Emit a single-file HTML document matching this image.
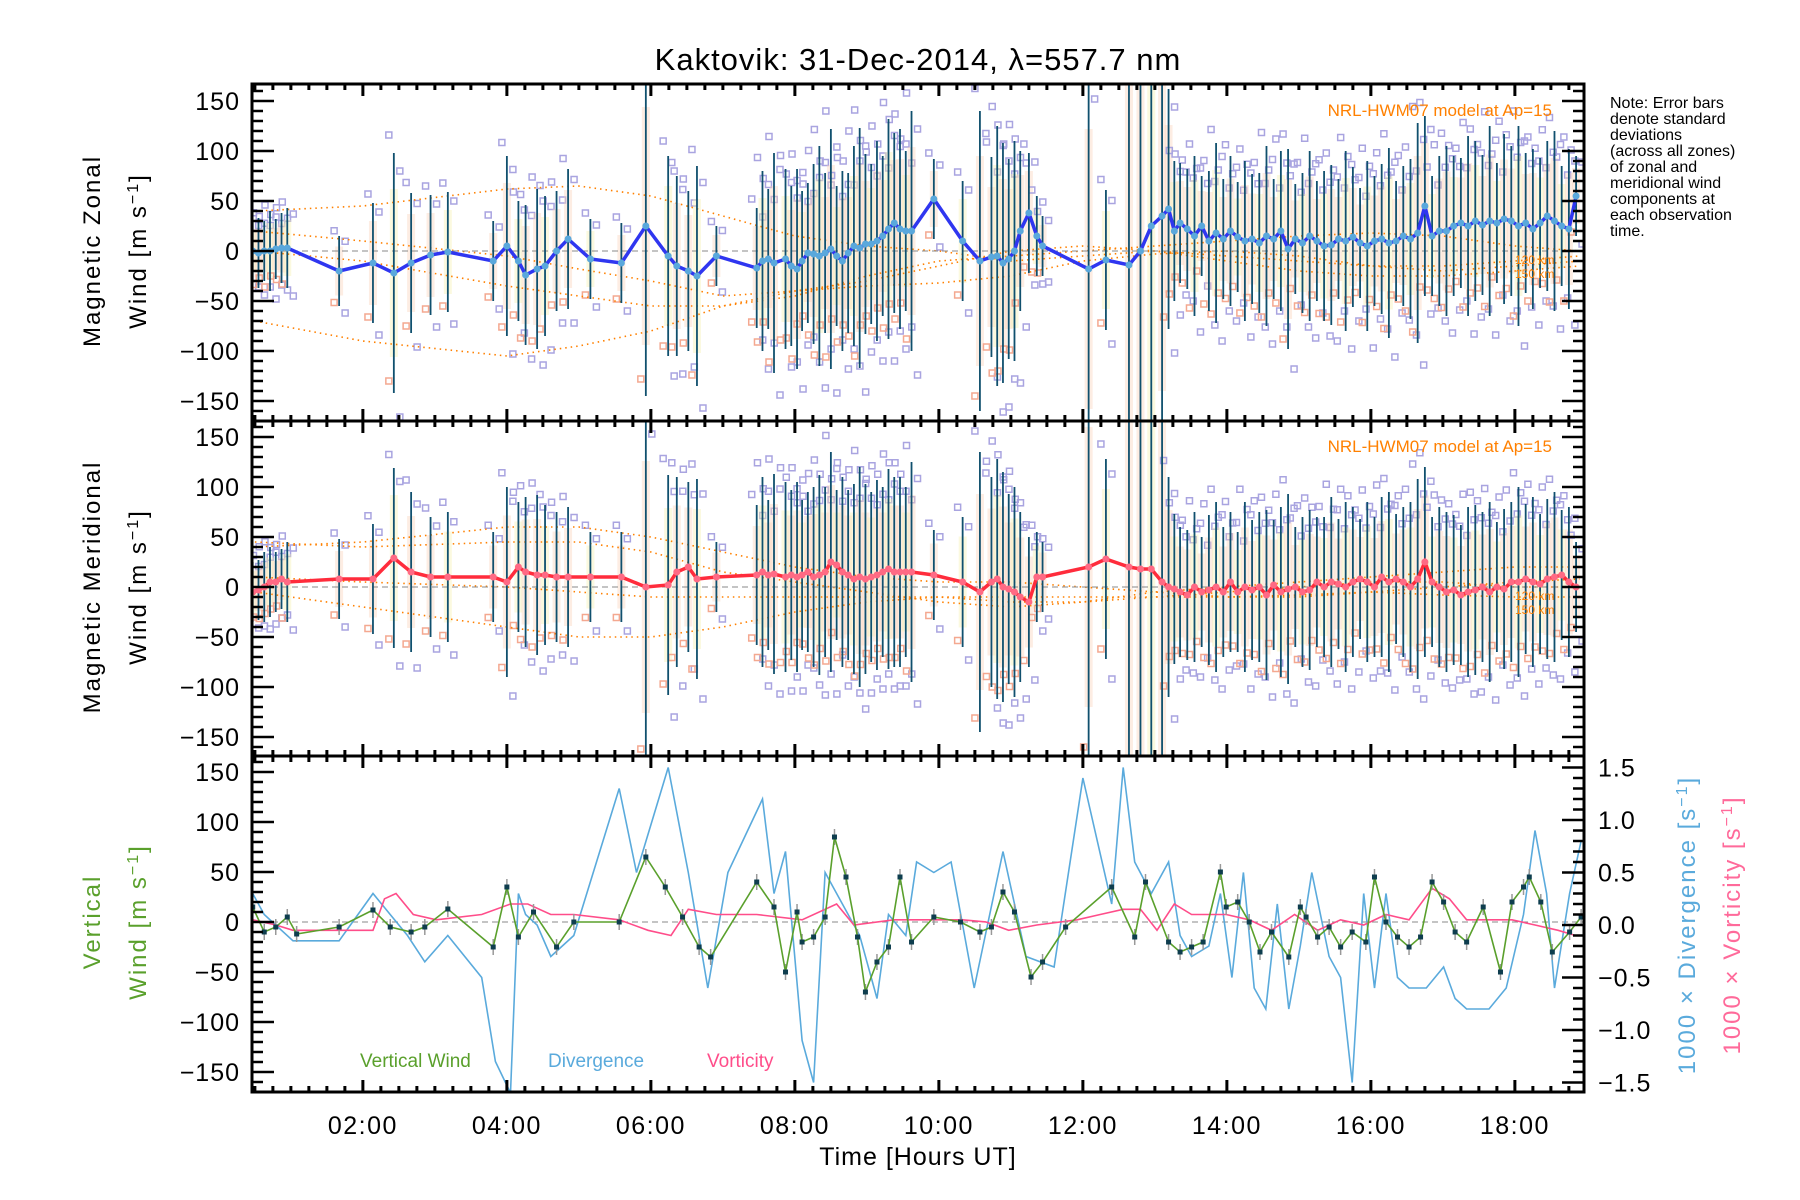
<!DOCTYPE html>
<html><head><meta charset="utf-8"><title>Kaktovik winds</title>
<style>
html,body{margin:0;padding:0;background:#fff;}
svg{display:block;font-family:"Liberation Sans",sans-serif;}
</style></head>
<body>
<svg id="chart" width="1800" height="1200" viewBox="0 0 1800 1200" xmlns="http://www.w3.org/2000/svg">
<text x="918" y="70" font-size="31" text-anchor="middle" letter-spacing="1">Kaktovik: 31-Dec-2014, λ=557.7 nm</text>
<g font-size="16" fill="#000">
<text x="1610" y="108">Note: Error bars</text>
<text x="1610" y="124">denote standard</text>
<text x="1610" y="140">deviations</text>
<text x="1610" y="156">(across all zones)</text>
<text x="1610" y="172">of zonal and</text>
<text x="1610" y="188">meridional wind</text>
<text x="1610" y="204">components at</text>
<text x="1610" y="220">each observation</text>
<text x="1610" y="236">time.</text>
</g>
<g id="layer"></g>
</svg>
<script>
// ---------- data ----------
const obsTimes=[0.47,0.55,0.63,0.71,0.79,0.87,0.95,1.67,2.14,2.43,2.67,2.94,3.18,3.81,4.00,4.16,4.26,4.42,4.53,4.69,4.85,5.16,5.59,5.93,6.24,6.36,6.52,6.64,6.91,7.47,7.55,7.63,7.71,7.87,7.95,8.03,8.10,8.18,8.26,8.34,8.42,8.50,8.58,8.66,8.74,8.82,8.90,8.98,9.06,9.14,9.22,9.30,9.38,9.46,9.54,9.62,9.93,10.33,10.57,10.73,10.81,10.89,10.97,11.05,11.13,11.25,11.36,11.44,12.08,12.32,12.64,12.80,12.95,13.10,13.19,13.27,13.35,
13.45,13.55,13.65,13.75,13.85,13.95,14.05,14.15,14.25,14.35,14.45,14.55,14.65,14.75,14.85,14.95,15.05,15.15,15.25,15.35,15.45,15.55,15.65,15.75,15.85,15.95,16.05,16.15,16.25,16.35,16.45,16.55,16.65,16.75,16.85,16.95,17.05,17.15,17.25,17.35,17.45,17.55,17.65,17.75,17.85,17.95,18.05,18.15,18.25,18.35,18.45,18.55,18.65,18.75,18.85];
const zonalWind=[0,-2,0,0,2,3,3,-20,-12,-22,-12,-4,-1,-10,5,-10,-24,-18,-15,0,12,-8,-12,25,-5,-15,-20,-25,-5,-17,-10,-8,-12,-8,-15,-18,-10,-2,-3,-5,-2,2,-5,-10,-2,5,3,7,7,10,15,22,28,22,20,20,52,10,-10,-6,-5,-12,-8,0,20,38,15,5,-18,-9,-14,0,25,35,42,20,28,
22,15,25,10,18,12,20,14,10,12,8,15,12,20,2,12,8,15,10,5,6,12,10,14,8,5,10,12,8,10,15,12,18,45,15,20,20,25,28,25,30,26,30,28,32,30,25,28,22,28,35,30,25,22,55];
const meridWind=[-5,-3,0,5,5,8,5,8,8,29,15,10,10,10,5,20,15,12,12,10,10,10,10,0,2,15,20,8,10,12,15,12,13,10,12,10,12,15,10,12,15,25,22,15,12,8,10,8,10,12,15,18,15,15,15,15,12,5,-5,5,8,0,-2,-5,-10,-15,10,10,20,28,20,18,18,5,0,-2,-5,
-8,0,-5,-3,0,-5,5,-5,0,-3,0,-8,2,-5,-2,0,-5,-3,5,0,5,3,0,5,8,5,0,10,5,8,5,0,8,25,5,0,-5,-3,-8,-5,-3,0,-5,0,-2,5,5,8,5,3,8,10,12,5,0];
const zonalErr=[30,35,30,40,30,35,40,35,60,120,70,60,60,40,90,60,70,80,70,60,70,40,40,170,100,90,80,110,30,60,90,70,110,90,80,100,70,70,90,110,80,120,70,90,80,100,120,90,80,100,80,110,90,100,80,120,40,60,150,100,130,120,100,110,80,60,40,30,200,70,300,300,300,250,120,70,60,
60,80,50,70,90,60,75,55,80,65,70,90,60,80,100,55,70,85,60,75,80,60,90,70,55,85,65,75,95,60,70,80,110,90,60,75,85,70,65,90,80,70,95,60,85,75,100,70,80,65,75,90,60,80,40];
const meridErr=[30,30,35,35,30,30,40,40,55,90,80,60,65,45,95,65,75,80,70,65,70,45,45,180,110,95,85,100,35,70,95,75,100,95,85,95,75,80,90,100,85,110,75,95,85,95,110,95,85,95,85,100,95,95,85,110,45,65,140,105,120,115,95,105,85,65,45,35,200,100,300,300,300,260,110,75,65,
65,75,55,75,85,65,70,60,85,70,75,85,65,85,95,60,75,80,65,70,85,65,85,75,60,80,70,80,90,65,75,85,100,95,65,80,80,75,70,85,85,75,90,65,80,80,95,75,85,70,80,85,65,75,45];
const modelHours=[0.5,2,4,5,6,7,8,9,10,11,12,13,14,15,16,17,18,18.9];
const zonalModelA=[40,45,62,65,55,35,15,5,0,-10,-5,0,-5,-10,-15,-15,-10,-5];
const zonalModelB=[-70,-90,-105,-95,-80,-55,-40,-35,-32,-25,-10,-3,0,-5,-15,-20,-15,-10];
const zonalModelC=[0,-10,-35,-45,-55,-55,-45,-25,-10,-5,0,5,10,15,18,15,5,0];
const zonalModelD=[20,10,-5,-18,-30,-45,-40,-30,-15,0,5,0,-10,-20,-25,-25,-20,-15];
const meridModelA=[45,40,45,45,35,15,5,-5,-15,-20,-15,-5,0,5,10,15,20,20];
const meridModelB=[-5,-20,-40,-50,-50,-40,-25,-15,-10,-15,-15,-10,-5,0,5,5,0,0];
const meridModelC=[40,45,60,60,50,35,20,10,5,5,0,-5,-10,-10,-5,0,5,8];
const meridModelD=[10,5,0,-5,-10,-10,-10,-10,-10,-10,-10,-10,-10,-8,-5,-8,-10,-10];
const vertTimes=[0.47,0.63,0.79,0.95,1.08,1.67,2.14,2.38,2.67,2.86,3.18,3.81,4.00,4.16,4.37,4.69,4.93,5.56,5.93,6.20,6.44,6.67,6.83,7.47,7.71,7.87,8.03,8.10,8.26,8.42,8.55,8.71,8.87,8.98,9.14,9.30,9.46,9.62,9.93,10.30,10.57,10.73,10.89,11.05,11.28,11.44,11.76,12.40,12.72,12.87,13.19,13.35,13.51,13.67,13.91,13.99,14.15,14.31,14.46,14.62,14.86,15.02,15.10,15.26,15.42,15.58,15.74,15.93,16.05,16.21,16.37,16.53,16.69,16.85,17.01,17.17,17.33,17.56,17.80,17.96,18.12,18.20,18.36,18.52,18.76,18.92];
const vertWind=[15,-10,-5,5,-12,-5,12,-5,-10,-5,13,-25,35,-15,10,-25,0,0,65,35,5,-25,-35,40,15,-50,10,-20,-15,5,85,45,-15,-70,-40,-25,45,-20,5,0,-10,-5,30,10,-55,-40,-5,35,-15,40,-20,-30,-25,-20,50,15,20,0,-30,-10,-35,15,5,-15,-5,-25,-10,-20,45,0,-15,-25,-15,40,20,-10,-20,15,-50,20,35,45,20,-30,-10,5];
const divTimes=[0.47,0.63,1.03,1.67,2.14,2.38,2.62,2.86,3.18,3.65,3.84,4.05,4.16,4.26,4.42,4.61,4.93,5.56,5.80,6.24,6.52,6.79,7.07,7.55,7.71,7.87,8.10,8.26,8.42,8.66,8.90,9.14,9.30,9.54,9.69,9.93,10.17,10.49,10.89,11.21,11.60,12.00,12.40,12.56,12.72,12.95,13.19,13.35,13.51,13.75,13.91,14.07,14.23,14.38,14.54,14.70,14.86,15.02,15.18,15.42,15.58,15.74,15.90,16.05,16.21,16.37,16.53,16.77,17.01,17.17,17.33,17.64,17.88,18.12,18.28,18.44,18.55,18.76,18.92];
const divValues=[0.3,0.1,-0.15,-0.15,0.3,0.1,-0.1,-0.35,-0.1,-0.5,-1.3,-1.6,0.3,0.1,0,-0.3,-0.1,1.3,0.5,1.5,0.5,-0.6,0.5,1.2,0.3,0.7,-1.1,-1.5,0.5,0.2,-0.1,-0.7,0.1,-0.1,0.6,0.5,0.6,-0.6,0.7,-0.3,-0.4,1.4,0.2,1.5,0.6,0.3,0.6,-0.1,-0.3,-0.2,0.3,-0.5,0.5,-0.6,-0.8,0.2,-0.8,-0.2,0.5,-0.3,-0.5,-1.5,0.3,-0.6,0.3,-0.5,-0.6,-0.6,-0.4,-0.7,-0.8,-0.8,-0.6,0.1,0.9,0.3,-0.6,0.3,0.8];
const vortTimes=[0.47,0.79,1.03,1.75,2.14,2.30,2.46,2.70,3.02,3.65,4.05,4.29,4.61,4.93,5.56,5.96,6.28,6.52,6.91,7.47,8.10,8.58,8.82,9.38,9.85,10.33,10.65,10.97,11.36,11.92,12.24,12.56,12.80,13.03,13.27,13.51,13.75,13.99,14.31,14.62,14.94,15.26,15.58,15.90,16.21,16.53,16.85,17.09,17.33,17.64,17.96,18.28,18.60,18.84];
const vortValues=[0.05,0,-0.05,-0.05,-0.05,0.25,0.3,0.1,0.05,0.1,0.2,0.2,0.1,0.1,0.05,-0.05,-0.1,0.15,0.1,0.1,0.05,0.2,0,0.05,0.05,0.05,0.03,-0.05,0,0.05,0.1,0.15,0.15,-0.05,0.2,0.1,0.1,0.1,0.05,-0.05,0.1,-0.05,0.05,0,0.1,0.05,0.35,0.25,0.05,0.05,0.05,0,-0.05,-0.1];
const leftTicks=[-150,-100,-50,0,50,100,150];
const rightTicks=[-1.5,-1.0,-0.5,0.0,0.5,1.0,1.5];
const hourTicks=[2,4,6,8,10,12,14,16,18];
const hourLabels=["02:00","04:00","06:00","08:00","10:00","12:00","14:00","16:00","18:00"];

// ---------- layout ----------
const NS="http://www.w3.org/2000/svg";
const L=252,R=1584,H0=0.46,PXH=72;
const panels=[{top:84,bot:421,zero:251},{top:421,bot:756,zero:587},{top:756,bot:1092,zero:922}];
const X=h=>L+(h-H0)*PXH;
const Y=(p,v)=>panels[p].zero-v;
const YR=v=>925-v*105;
const layer=document.getElementById('layer');
function el(tag,attrs,parent){const e=document.createElementNS(NS,tag);for(const k in attrs)e.setAttribute(k,attrs[k]);(parent||layer).appendChild(e);return e;}
const defs=el('defs',{});
panels.forEach((p,i)=>{const c=el('clipPath',{id:'clip'+i},defs);el('rect',{x:L,y:p.top,width:R-L,height:p.bot-p.top},c);});

function pathD(xs,ys){return xs.map((x,i)=>(i?'L':'M')+x.toFixed(1)+' '+ys[i].toFixed(1)).join(' ');}

// ---------- wind panels ----------
function windPanel(pi,vals,errs,models,lineCol,dotCol,name){
  const g=el('g',{'clip-path':'url(#clip'+pi+')'});
  
  
  obsTimes.forEach((t,i)=>{
    const x=X(t),v=vals[i],e=errs[i];
    const b=el('rect',{x:x-4,y:Y(pi,v+e*0.7),width:8,height:e*1.4,fill:i%3?'#fbd2b8':'#f5f0b0',opacity:0.4},g);
    
    
    [1.15,0.85,-0.9,-1.2].forEach((f,k)=>{
      const s=el('rect',{x:x-3+(k%2?6:-5),y:Y(pi,v+e*f)-3,width:6,height:6,fill:'none',stroke:k===2?'#f4a890':'#a9a4e0','stroke-width':1.5},g);
      
      
    });
  });
  models.forEach((m,k)=>{
    const c=el('path',{d:pathD(modelHours.map(X),m.map(v=>Y(pi,v))),fill:'none',stroke:'#ff8000','stroke-width':1.6,'stroke-dasharray':'1.5 4'},g);
    
    
  });
  const z=el('line',{x1:L,x2:R,y1:Y(pi,0),y2:Y(pi,0),stroke:'#888','stroke-width':1,'stroke-dasharray':'6 4'},g);
  
  
  obsTimes.forEach((t,i)=>{
    const b=el('line',{x1:X(t),x2:X(t),y1:Y(pi,vals[i]-errs[i]),y2:Y(pi,vals[i]+errs[i]),stroke:'#10506e','stroke-width':1.8},g);
    
    
  });
  const ln=el('path',{d:pathD(obsTimes.map(X),vals.map(v=>Y(pi,v))),fill:'none',stroke:lineCol,'stroke-width':3.5},g);
  
  
  obsTimes.forEach((t,i)=>{
    const d=el('circle',{cx:X(t),cy:Y(pi,vals[i]),r:3.5,fill:dotCol},g);
    
    
  });
  const lab=el('text',{x:1552,y:Y(pi,0)-135,'font-size':17,fill:'#ff8000','text-anchor':'end'});
  lab.textContent='NRL-HWM07 model at Ap=15';
  
  
  const k1=el('text',{x:1515,y:Y(pi,0)+13,'font-size':12,fill:'#ff8000'});k1.textContent='120 km';
  
  
  const k2=el('text',{x:1515,y:Y(pi,0)+27,'font-size':12,fill:'#ff8000'});k2.textContent='150 km';
  
  
}
windPanel(0,zonalWind,zonalErr,[zonalModelA,zonalModelB,zonalModelC,zonalModelD],'#2f36f0','#5aa8dc','zonal');
windPanel(1,meridWind,meridErr,[meridModelA,meridModelB,meridModelC,meridModelD],'#ff2c3c','#ff6a84','meridional');

// ---------- panel 3 ----------
(function(){
  const g=el('g',{'clip-path':'url(#clip2)'});
  
  
  const z=el('line',{x1:L,x2:R,y1:Y(2,0),y2:Y(2,0),stroke:'#888','stroke-width':1,'stroke-dasharray':'6 4'},g);
  
  
  const dv=el('path',{d:pathD(divTimes.map(X),divValues.map(YR)),fill:'none',stroke:'#5aaadc','stroke-width':1.6},g);
  
  
  const vo=el('path',{d:pathD(vortTimes.map(X),vortValues.map(YR)),fill:'none',stroke:'#ff4d8a','stroke-width':1.6},g);
  
  
  vertTimes.forEach((t,i)=>{
    const b=el('line',{x1:X(t),x2:X(t),y1:Y(2,vertWind[i]-8),y2:Y(2,vertWind[i]+8),stroke:'#999','stroke-width':1.5},g);
    
    
  });
  const vw=el('path',{d:pathD(vertTimes.map(X),vertWind.map(v=>Y(2,v))),fill:'none',stroke:'#5aa02c','stroke-width':1.6},g);
  
  
  vertTimes.forEach((t,i)=>{
    const d=el('rect',{x:X(t)-2.5,y:Y(2,vertWind[i])-2.5,width:5,height:5,fill:'#0e3d4e'},g);
    
    
  });
  [['Vertical Wind','#5aa02c',360],['Divergence','#5aaadc',548],['Vorticity','#ff4d8a',707]].forEach(a=>{
    const t=el('text',{x:a[2],y:1067,'font-size':19,fill:a[1]});t.textContent=a[0];
    
    
  });
})();

// ---------- axes ----------
panels.forEach((p,pi)=>{
  const fr=el('rect',{x:L,y:p.top,width:R-L,height:p.bot-p.top,fill:'none',stroke:'#000','stroke-width':3});
  
  
  for(let v=-160;v<=160;v+=10){
    const y=Y(pi,v);if(y<p.top+2||y>p.bot-2)continue;
    const len=v%50===0?22:11;
    el('line',{x1:L,x2:L+len,y1:y,y2:y,stroke:'#000','stroke-width':2.5});
    if(pi<2) el('line',{x1:R,x2:R-len,y1:y,y2:y,stroke:'#000','stroke-width':2.5});
  }
  leftTicks.forEach(v=>{
    const t=el('text',{x:240,y:Y(pi,v)+9,'font-size':25,'text-anchor':'end','letter-spacing':1});
    t.textContent=v<0?'\u2212'+(-v):String(v);
    
    
  });
  for(let h=0.5;h<19;h+=0.25){
    const x=X(h);if(x<L+2||x>R-2)continue;
    const major=Math.abs(h-Math.round(h))<0.01&&Math.round(h)%2===0;
    const len=major?12:6;
    el('line',{x1:x,x2:x,y1:p.bot,y2:p.bot-len,stroke:'#000','stroke-width':3});
    el('line',{x1:x,x2:x,y1:p.top,y2:p.top+len,stroke:'#000','stroke-width':3});
  }
});
for(let v=-15;v<=15;v++){
  const y=YR(v/10);if(y<758||y>1090)continue;
  const len=v%5===0?22:11;
  el('line',{x1:R,x2:R-len,y1:y,y2:y,stroke:'#000','stroke-width':2.5});
}
rightTicks.forEach(v=>{
  const t=el('text',{x:1598,y:YR(v)+9,'font-size':25,'letter-spacing':1});
  t.textContent=(v<0?'\u2212':'')+Math.abs(v).toFixed(1);
  
  
});
hourTicks.forEach((h,i)=>{
  const t=el('text',{x:X(h),y:1134,'font-size':25,'text-anchor':'middle','letter-spacing':1.5});
  t.textContent=hourLabels[i];
  
  
});
const xt=el('text',{x:918,y:1165,'font-size':25,'text-anchor':'middle','letter-spacing':1});
xt.textContent='Time [Hours UT]';



function rotLabel(x,y,parts,name){
  const t=el('text',{x:x,y:y,'font-size':24,'text-anchor':'middle','letter-spacing':2,transform:'rotate(-90 '+x+' '+y+')'});
  parts.forEach(p=>{const s=el('tspan',{fill:p[1]},t);s.textContent=p[0];if(p[2]){s.setAttribute('baseline-shift','super');s.setAttribute('font-size','16');}});
  
  
}
rotLabel(100,251,[['Magnetic  Zonal','#000']],'zonal-y-axis-title');
rotLabel(146,251,[['Wind  [m  s','#000'],['−1','#000',1],[']','#000']],'zonal-y-axis-units');
rotLabel(100,587,[['Magnetic  Meridional','#000']],'meridional-y-axis-title');
rotLabel(146,587,[['Wind  [m  s','#000'],['−1','#000',1],[']','#000']],'meridional-y-axis-units');
rotLabel(100,922,[['Vertical','#5aa02c']],'vertical-y-axis-title');
rotLabel(146,922,[['Wind  [m  s','#5aa02c'],['−1','#5aa02c',1],[']','#5aa02c']],'vertical-y-axis-units');
rotLabel(1695,925,[['1000 × Divergence [s','#5aaadc'],['−1','#5aaadc',1],[']','#5aaadc']],'divergence-axis-title');
rotLabel(1740,925,[['1000 × Vorticity [s','#ff6a9a'],['−1','#ff6a9a',1],[']','#ff6a9a']],'vorticity-axis-title');
</script>
</body></html>
